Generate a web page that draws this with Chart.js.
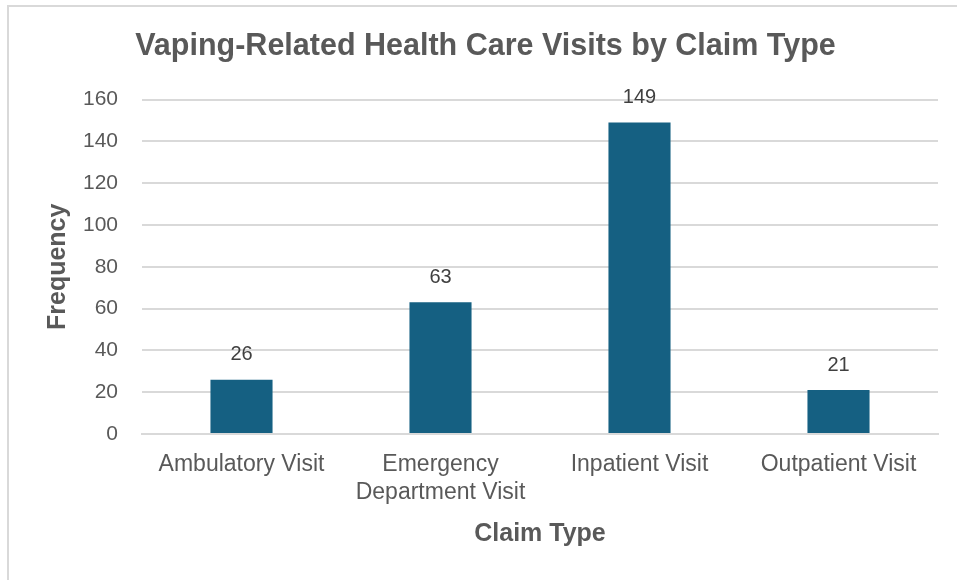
<!DOCTYPE html>
<html>
<head>
<meta charset="utf-8">
<script src="https://cdn.jsdelivr.net/npm/chart.js@4.4.1/dist/chart.umd.min.js"></script>
<style>
    html, body { margin: 0; padding: 0; background: #ffffff; }
    #wrap { position: relative; width: 957px; height: 580px; overflow: hidden; }
    #frame { position: absolute; left: 7px; top: 5px; width: 1000px; height: 1000px; border: 2px solid #d9d9d9; box-sizing: border-box; }
    #chart { position: absolute; left: 0; top: 0; }
</style>
</head>
<body>
<div id="wrap">
    <div id="frame"></div>
    <canvas id="chart" width="957" height="580"></canvas>
</div>
<script>
const claimTypes = ['Ambulatory Visit', ['Emergency', 'Department Visit'], 'Inpatient Visit', 'Outpatient Visit'];
const visitCounts = [26, 63, 149, 21];
const yTicks = [0, 20, 40, 60, 80, 100, 120, 140, 160];

const textGrey = '#595959';
const plainFont = '"Liberation Sans", Arial, sans-serif';

// value labels above each bar
const barLabels = {
    id: 'barLabels',
    afterDatasetsDraw(chart) {
        const ctx = chart.ctx;
        const meta = chart.getDatasetMeta(0);
        ctx.save();
        ctx.font = '20px ' + plainFont;
        ctx.fillStyle = '#404040';
        ctx.textAlign = 'center';
        ctx.textBaseline = 'middle';
        meta.data.forEach((bar, i) => {
            ctx.fillText(String(visitCounts[i]), bar.x, bar.y - 25);
        });
        ctx.restore();
    }
};

const ctx = document.getElementById('chart').getContext('2d');

new Chart(ctx, {
    type: 'bar',
    data: {
        labels: claimTypes,
        datasets: [{
            label: 'Frequency',
            data: visitCounts,
            backgroundColor: '#156082',
            borderWidth: 0,
            barPercentage: 0.312,
            categoryPercentage: 1,
        }]
    },
    options: {
        responsive: false,
        animation: false,
        layout: {
            padding: { left: 33, right: 19, top: 0, bottom: 0 }
        },
        plugins: {
            legend: { display: false },
            tooltip: { enabled: false },
            title: {
                display: true,
                text: 'Vaping-Related Health Care Visits by Claim Type',
                color: textGrey,
                font: { family: plainFont, size: 30.5, weight: 'bold', lineHeight: 1.2 },
                padding: { top: 28.5, bottom: 34.5 },
            },
        },
        scales: {
            x: {
                grid: { display: false, drawTicks: false },
                border: { display: true, color: '#d9d9d9', width: 2 },
                ticks: {
                    color: textGrey,
                    font: { family: plainFont, size: 23, lineHeight: '28px' },
                    padding: 17,
                    maxRotation: 0,
                    autoSkip: false,
                },
                title: {
                    display: true,
                    text: 'Claim Type',
                    color: textGrey,
                    font: { family: plainFont, size: 25, weight: 'bold', lineHeight: 1.2 },
                    padding: { top: 0, bottom: 31 },
                },
                afterFit(scale) { scale.height = 146; },
            },
            y: {
                min: 0,
                max: 160,
                afterBuildTicks(scale) { scale.ticks = yTicks.map(v => ({ value: v })); },
                grid: { color: '#d9d9d9', lineWidth: 2, drawTicks: false },
                border: { display: false },
                ticks: {
                    color: textGrey,
                    font: { family: plainFont, size: 21 },
                    padding: 24,
                },
                title: {
                    display: true,
                    text: 'Frequency',
                    color: textGrey,
                    font: { family: plainFont, size: 25, weight: 'bold', lineHeight: 1.2 },
                    padding: { top: 10, bottom: 0 },
                },
                afterFit(scale) { scale.width = 109; },
            }
        }
    },
    plugins: [barLabels]
});
</script>
</body>
</html>
